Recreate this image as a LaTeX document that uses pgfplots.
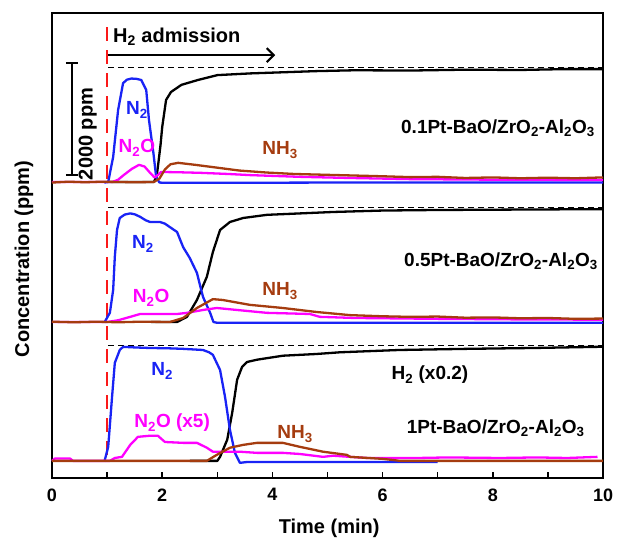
\documentclass[border=0pt]{standalone}
\usepackage{fontspec}
\setmainfont{Liberation Sans}
\usepackage{pgfplots}
\usepackage{pgfplotstable}
\pgfplotsset{compat=1.18}
\usetikzlibrary{arrows.meta}

\definecolor{cN2}{RGB}{25,35,245}
\definecolor{cN2O}{RGB}{255,0,255}
\definecolor{cNH3}{RGB}{165,60,15}
\definecolor{cAdm}{RGB}{250,25,25}

% baseline offsets of the three stacked traces (ppm)
\def\offA{5180}
\def\offB{2730}
\def\offC{300}

% ---------- 0.1Pt-BaO/ZrO2-Al2O3 ----------
\pgfplotstableread{
t c
0.95 -10
1.02 0
1.11 440
1.20 1260
1.29 1730
1.36 1790
1.44 1810
1.53 1805
1.62 1785
1.71 1610
1.76 1085
1.84 510
1.89 90
1.95 -10
2.05 -15
3.0 -15
5.0 -10
10 -10
}\NtwoA
\pgfplotstableread{
t c
0 0
1.10 0
1.20 40
1.30 120
1.45 230
1.58 300
1.68 270
1.78 160
1.86 80
1.92 120
1.98 175
2.3 170
2.7 160
3.2 140
3.6 120
4.5 90
5.4 70
6.5 50
8 40
10 35
}\NtwoOA
\pgfplotstableread{
t c
0 -10
0.3 5
0.6 -5
0.9 5
1.2 0
1.5 -5
1.85 0
1.95 60
2.05 220
2.15 310
2.29 335
2.6 300
3.0 250
3.4 200
3.9 165
4.4 140
5.0 125
5.4 115
6.0 100
6.5 85
7.0 90
7.5 70
8.0 80
8.5 65
9.0 75
9.5 65
10 80
}\NHA
\pgfplotstableread{
t c
1.0 0
1.85 0
1.90 100
1.93 330
1.97 650
2.0 960
2.07 1435
2.16 1575
2.35 1700
2.65 1785
3.0 1870
3.6 1900
4.2 1920
4.8 1940
5.5 1955
6.5 1950
7.5 1965
8.5 1960
9.3 1975
10 1975
}\HA

% ---------- 0.5Pt-BaO/ZrO2-Al2O3 ----------
\pgfplotstableread{
t c
0.95 -10
1.05 160
1.11 560
1.14 1140
1.18 1610
1.23 1820
1.32 1880
1.42 1900
1.50 1885
1.60 1840
1.70 1780
1.78 1750
1.96 1750
2.05 1720
2.14 1660
2.27 1575
2.38 1310
2.50 1120
2.63 860
2.74 440
2.87 160
2.93 0
3.0 -15
10 -15
}\NtwoB
\pgfplotstableread{
t c
0 0
1.0 0
1.2 30
1.42 90
1.60 140
2.27 140
2.45 160
2.74 210
2.99 245
3.36 210
3.9 160
4.68 140
4.86 90
5.5 70
7 55
8.5 45
10 40
}\NtwoOB
\pgfplotstableread{
t c
0 5
0.4 -5
0.8 5
1.2 -5
1.6 5
2.14 0
2.38 70
2.63 245
2.92 400
3.10 385
3.59 300
4.19 245
4.80 175
5.41 120
6.0 100
6.5 90
7.0 95
7.5 75
8.0 80
8.5 65
9.0 70
9.5 55
10 60
}\NHB
\pgfplotstableread{
t c
1.8 0
2.27 0
2.45 90
2.63 385
2.81 790
2.92 1225
3.05 1610
3.23 1750
3.47 1820
3.90 1875
4.50 1900
5.10 1925
6.0 1950
7.0 1960
8.0 1965
9.0 1970
10 1975
}\HB

% ---------- 1Pt-BaO/ZrO2-Al2O3 ----------
\pgfplotstableread{
t c
0.95 -15
1.02 245
1.09 1120
1.14 1715
1.23 1940
1.29 1995
1.50 1985
1.78 1975
2.10 1970
2.38 1960
2.74 1940
2.85 1900
2.92 1855
3.05 1590
3.14 1120
3.23 540
3.32 140
3.41 -35
3.54 -20
7.0 -20
}\NtwoC
\pgfplotstableread{
t c
0 0
0.05 40
0.33 40
0.38 0
1.05 0
1.14 50
1.27 70
1.42 280
1.56 420
1.78 440
1.92 440
2.05 330
2.38 315
2.63 315
2.81 230
2.92 160
3.41 160
3.72 140
4.19 140
4.50 120
4.92 70
5.10 90
5.72 50
6.62 50
7.2 60
8.13 50
8.8 60
9.35 50
9.9 70
}\NtwoOC
\pgfplotstableread{
t c
0 0
2.81 0
2.99 105
3.23 230
3.47 280
3.72 315
4.19 315
4.50 245
4.92 160
5.35 105
5.41 70
6.0 35
6.32 0
10 0
}\NHC
\pgfplotstableread{
t c
2.5 0
3.0 0
3.05 70
3.18 370
3.27 840
3.36 1420
3.45 1645
3.54 1730
3.72 1770
4.19 1840
4.80 1870
5.23 1900
6.3 1940
7.53 1960
8.73 1975
9.9 1995
10 1995
}\HC

\newcommand\lbl{\fontsize{19}{21}\selectfont\bfseries}

\begin{document}
\begin{tikzpicture}
\path[use as bounding box] (-52pt,-59pt) rectangle (565pt,478pt);
\begin{axis}[
  at={(0,0)}, anchor=south west,
  scale only axis, width=551pt, height=465pt,
  xmin=0, xmax=10, ymin=0, ymax=8137,
  xtick={0,2,...,10}, minor xtick={1,3,...,9},
  ytick=\empty,
  tick align=inside, xtick pos=bottom,
  major tick length=6pt, minor tick length=6pt,
  axis line style={line width=1.8pt},
  every tick/.style={black, line width=1.5pt},
  tick label style={font=\fontsize{18}{20}\selectfont\bfseries},
  xticklabel style={yshift=-7pt},
  /pgf/number format/assume math mode=true,
  xlabel={Time (min)}, ylabel={Concentration (ppm)},
  label style={font=\fontsize{20}{22}\selectfont\bfseries},
  xlabel style={at={(axis description cs:0.503,-0.108)}, anchor=center},
  ylabel style={at={(axis description cs:-0.0508,0.471)}, anchor=center},
  clip=false,
  every axis plot/.append style={line width=2.3pt, line join=round},
]
% H2 admission marker
\addplot[cAdm, line width=2.4pt, dash pattern=on 14pt off 9pt] coordinates {(1.0,7890) (1.0,315)};

% H2 inlet reference levels
\addplot[black, line width=1.4pt, dash pattern=on 6pt off 4pt] coordinates {(1.02,7180) (10,7180)};
\addplot[black, line width=1.4pt, dash pattern=on 6pt off 4pt] coordinates {(1.02,4730) (10,4730)};
\addplot[black, line width=1.4pt, dash pattern=on 6pt off 4pt] coordinates {(1.02,2320) (10,2320)};

% top trace
\addplot[black] table[x=t, y expr=\thisrow{c}+\offA] {\HA};
\addplot[cN2] table[x=t, y expr=\thisrow{c}+\offA] {\NtwoA};
\addplot[cN2O] table[x=t, y expr=\thisrow{c}+\offA] {\NtwoOA};
\addplot[cNH3] table[x=t, y expr=\thisrow{c}+\offA] {\NHA};

% middle trace
\addplot[black] table[x=t, y expr=\thisrow{c}+\offB] {\HB};
\addplot[cN2] table[x=t, y expr=\thisrow{c}+\offB] {\NtwoB};
\addplot[cN2O] table[x=t, y expr=\thisrow{c}+\offB] {\NtwoOB};
\addplot[cNH3] table[x=t, y expr=\thisrow{c}+\offB] {\NHB};

% bottom trace
\addplot[black] table[x=t, y expr=\thisrow{c}+\offC] {\HC};
\addplot[cN2] table[x=t, y expr=\thisrow{c}+\offC] {\NtwoC};
\addplot[cN2O] table[x=t, y expr=\thisrow{c}+\offC] {\NtwoOC};
\addplot[cNH3] table[x=t, y expr=\thisrow{c}+\offC] {\NHC};

% annotations
\node[anchor=west, inner sep=0, font=\fontsize{20}{22}\selectfont\bfseries] at (axis cs:1.107,7717) {H\textsubscript{2} admission};
\draw[line width=2pt, -{Straight Barb[length=7pt,width=14pt,line width=2pt]}] (axis cs:1.02,7400) -- (axis cs:4.05,7400);

% scale bar
\draw[line width=1.8pt] (axis cs:0.36,5302) -- (axis cs:0.36,7262);
\draw[line width=1.8pt] (axis cs:0.25,5302) -- (axis cs:0.47,5302);
\draw[line width=1.8pt] (axis cs:0.25,7262) -- (axis cs:0.47,7262);
\node[rotate=90, inner sep=0, font=\fontsize{20}{22}\selectfont\bfseries] at (axis cs:0.65,6020) {2000 ppm};

% catalyst names
\node[anchor=east, inner sep=0, font=\lbl] at (axis cs:9.855,6125) {0.1Pt-BaO/ZrO\textsubscript{2}-Al\textsubscript{2}O\textsubscript{3}};
\node[anchor=east, inner sep=0, font=\lbl] at (axis cs:9.91,3797) {0.5Pt-BaO/ZrO\textsubscript{2}-Al\textsubscript{2}O\textsubscript{3}};
\node[anchor=east, inner sep=0, font=\lbl] at (axis cs:9.67,875) {1Pt-BaO/ZrO\textsubscript{2}-Al\textsubscript{2}O\textsubscript{3}};
\node[inner sep=0, font=\lbl] at (axis cs:6.86,1802) {H\textsubscript{2} (x0.2)};

% species labels
\node[cN2, inner sep=0, font=\lbl] at (axis cs:1.54,6440) {N\textsubscript{2}};
\node[cN2O, inner sep=0, font=\lbl] at (axis cs:1.54,5775) {N\textsubscript{2}O};
\node[cNH3, inner sep=0, font=\lbl] at (axis cs:4.14,5740) {NH\textsubscript{3}};

\node[cN2, inner sep=0, font=\lbl] at (axis cs:1.65,4095) {N\textsubscript{2}};
\node[cN2O, inner sep=0, font=\lbl] at (axis cs:1.80,3150) {N\textsubscript{2}O};
\node[cNH3, inner sep=0, font=\lbl] at (axis cs:4.14,3272) {NH\textsubscript{3}};

\node[cN2, inner sep=0, font=\lbl] at (axis cs:2.0,1872) {N\textsubscript{2}};
\node[cN2O, inner sep=0, font=\lbl] at (axis cs:2.18,962) {N\textsubscript{2}O (x5)};
\node[cNH3, inner sep=0, font=\lbl] at (axis cs:4.41,770) {NH\textsubscript{3}};
\end{axis}
\end{tikzpicture}
\end{document}
